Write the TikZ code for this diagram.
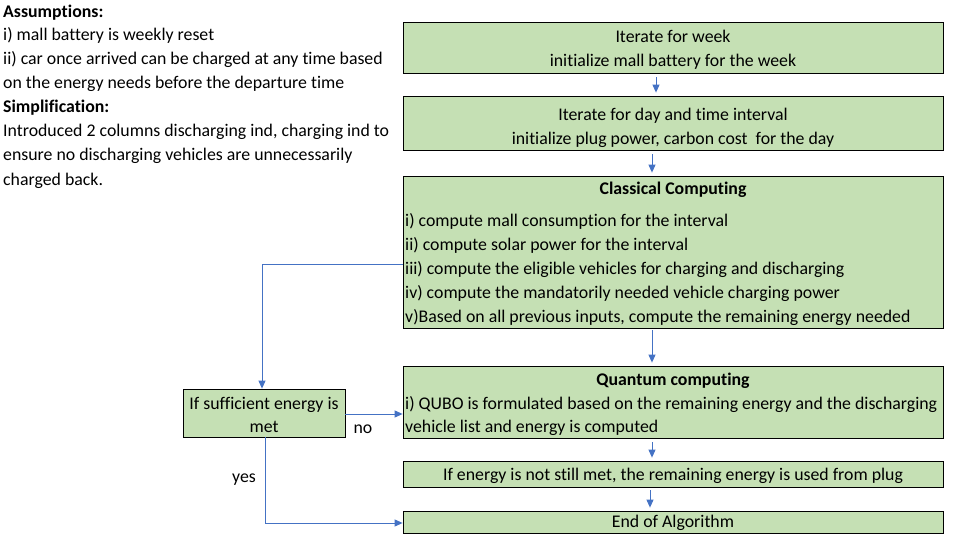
\documentclass[tikz,border=0pt]{standalone}
\usepackage{fontspec}
\setmainfont{Carlito}[Ligatures={NoCommon}]
\usetikzlibrary{arrows.meta}
\definecolor{boxgreen}{RGB}{197,224,180}
\definecolor{lineblue}{RGB}{68,114,196}
\begin{document}
\begin{tikzpicture}[x=1pt,y=-1pt,
  box/.style={draw=black, fill=boxgreen, line width=0.8pt, inner sep=0pt, minimum width=540pt},
  conn/.style={draw=lineblue, line width=0.9pt, -{Triangle[length=8pt,width=7pt]}},
  txt/.style={inner sep=0pt, yshift=-3.5pt, font=\fontsize{17.8}{24}\selectfont},
  btxt/.style={txt, font=\fontsize{17.8}{24}\selectfont\bfseries},
]
\useasboundingbox[fill=white] (0,0) rectangle (953,552);

% left notes
\node[btxt, anchor=mid west] (l1) at (3,12) {Assumptions:};
\node[txt, anchor=mid west] (l2) at (3,35) {i) mall battery is weekly reset};
\node[txt, anchor=mid west] (l3) at (3,59) {ii) car once arrived can be charged at any time based};
\node[txt, anchor=mid west] (l4) at (3,83) {on the energy needs before the departure time};
\node[btxt, anchor=mid west] (l5) at (3,107) {Simplification:};
\node[txt, anchor=mid west] (l6) at (3,131) {Introduced 2 columns discharging ind, charging ind to};
\node[txt, anchor=mid west] (l7) at (3,155) {ensure no discharging vehicles are unnecessarily};
\node[txt, anchor=mid west] (l8) at (3,180) {charged back.};

% boxes
\node[box, minimum height=51pt] (b1) at (673,47.5) {};
\node[box, minimum height=54pt] (b2) at (673,123) {};
\node[box, minimum height=152pt] (cc) at (673,252) {};
\node[box, minimum height=72pt] (qc) at (673,402) {};
\node[box, minimum height=26pt] (pl) at (673,474) {};
\node[box, minimum height=22pt] (en) at (673,522) {};
\node[box, minimum width=162pt, minimum height=48pt] (dec) at (264,413) {};

% box texts
\node[txt, anchor=mid] (b1a) at (673,37) {Iterate for week};
\node[txt, anchor=mid] (b1b) at (673,61) {initialize mall battery for the week};
\node[txt, anchor=mid] (b2a) at (673,115) {Iterate for day and time interval};
\node[txt, anchor=mid] (b2b) at (673,139) {initialize plug power, carbon cost\ \ for the day};
\node[btxt, anchor=mid] (cct) at (673,189) {Classical Computing};
\node[txt, anchor=mid west] (cc1) at (405,221) {i) compute mall consumption for the interval};
\node[txt, anchor=mid west] (cc2) at (405,245) {ii) compute solar power for the interval};
\node[txt, anchor=mid west] (cc3) at (405,269) {iii) compute the eligible vehicles for charging and discharging};
\node[txt, anchor=mid west] (cc4) at (405,293) {iv) compute the mandatorily needed vehicle charging power};
\node[txt, anchor=mid west] (cc5) at (405,317) {v)Based on all previous inputs, compute the remaining energy needed};
\node[btxt, anchor=mid] (qct) at (673,380) {Quantum computing};
\node[txt, anchor=mid west] (qc1) at (405,404) {i) QUBO is formulated based on the remaining energy and the discharging};
\node[txt, anchor=mid west] (qc2) at (405,427) {vehicle list and energy is computed};
\node[txt, anchor=mid] (plt) at (673,475) {If energy is not still met, the remaining energy is used from plug};
\node[txt, anchor=mid] (ent) at (673,522) {End of Algorithm};
\node[txt, anchor=mid] (deca) at (264,404) {If sufficient energy is};
\node[txt, anchor=mid] (decb) at (264,427) {met};

% labels
\node[txt, anchor=mid] (no) at (363,428) {no};
\node[txt, anchor=mid] (yes) at (244,477) {yes};

% connectors
\draw[conn, shorten <=4pt, shorten >=3pt] (b1.south -| 656,0) -- (b2.north -| 656,0);
\draw[conn, shorten <=4pt, shorten >=3pt] (b2.south -| 652,0) -- (cc.north -| 652,0);
\draw[conn, shorten <=2pt, shorten >=3pt] (cc.south -| 652,0) -- (qc.north -| 652,0);
\draw[conn, shorten <=4pt, shorten >=3pt] (qc.south -| 652,0) -- (pl.north -| 652,0);
\draw[conn, shorten <=3pt, shorten >=3pt] (pl.south -| 650,0) -- (en.north -| 650,0);
\draw[conn] (cc.west |- 0,264) -| (dec.north -| 262,0);
\draw[conn] (dec.east |- 0,414) -- (qc.west |- 0,414);
\draw[conn] (dec.south -| 265,0) |- (en.west |- 0,523);
\end{tikzpicture}
\end{document}
